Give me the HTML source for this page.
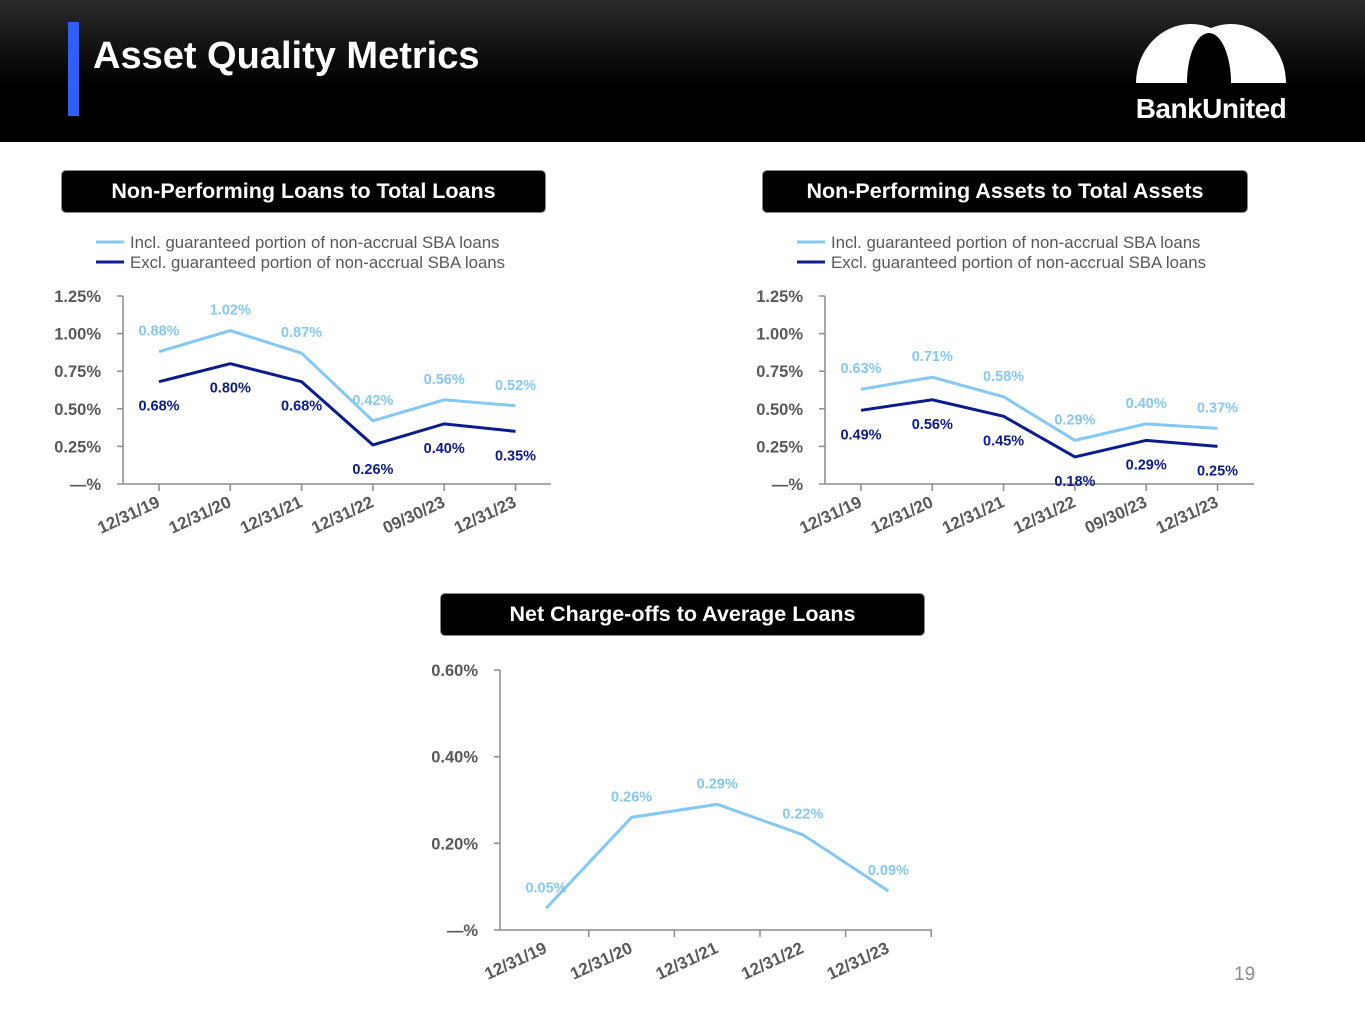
<!DOCTYPE html>
<html><head><meta charset="utf-8"><style>
body{margin:0;width:1365px;height:1024px;background:#fff;overflow:hidden;font-family:"Liberation Sans",Arial,sans-serif;position:relative}
.hdr{position:absolute;left:0;top:0;width:1365px;height:142px;background:linear-gradient(#2a2a2a,#000 60%)}
.bar{position:absolute;left:68px;top:22px;width:11px;height:94px;background:#2f5ff5}
.title{position:absolute;left:93px;top:35px;color:#fff;font-size:38px;font-weight:bold}
.box{position:absolute;height:41px;background:#000;border:1px solid #888;border-radius:5px;color:#fff;font-size:21.5px;font-weight:bold;text-align:center;line-height:41px}
.pg{position:absolute;left:1234px;top:964px;color:#8c8c8c;font-size:19px}
</style></head><body>
<div class="hdr"></div>
<div class="bar"></div>
<div class="title">Asset Quality Metrics</div>
<svg style="position:absolute;left:1120px;top:10px" width="180" height="125">
<defs><clipPath id="cl"><rect x="0" y="0" width="180" height="73"/></clipPath></defs>
<g clip-path="url(#cl)">
<ellipse cx="71" cy="73" rx="55" ry="59" fill="#fff"/>
<ellipse cx="111" cy="73" rx="55" ry="59" fill="#fff"/>
<ellipse cx="89" cy="73" rx="22" ry="50" fill="#000"/>
</g>
<text x="91" y="108" fill="#fff" font-size="28" font-weight="bold" text-anchor="middle" font-family="Liberation Sans,sans-serif" letter-spacing="-0.5">BankUnited</text>
</svg>
<div class="box" style="left:61px;top:170px;width:483px">Non-Performing Loans to Total Loans</div>
<div class="box" style="left:762px;top:170px;width:484px">Non-Performing Assets to Total Assets</div>
<div class="box" style="left:440px;top:593px;width:483px">Net Charge-offs to Average Loans</div>
<div class="pg">19</div>
<svg id="c" style="position:absolute;left:0;top:0" width="1365" height="1024"></svg>
<script>
const catsA=["12/31/19","12/31/20","12/31/21","12/31/22","09/30/23","12/31/23"];
const nplIncl=[0.88,1.02,0.87,0.42,0.56,0.52];
const nplExcl=[0.68,0.80,0.68,0.26,0.40,0.35];
const npaIncl=[0.63,0.71,0.58,0.29,0.40,0.37];
const npaExcl=[0.49,0.56,0.45,0.18,0.29,0.25];
const catsB=["12/31/19","12/31/20","12/31/21","12/31/22","12/31/23"];
const nco=[0.05,0.26,0.29,0.22,0.09];
const ticksA=[0,0.25,0.5,0.75,1.0,1.25];
const ticksAL=["—%","0.25%","0.50%","0.75%","1.00%","1.25%"];
const ticksB=[0,0.2,0.4,0.6];
const ticksBL=["—%","0.20%","0.40%","0.60%"];
const LIGHT="#85c8f5",DARK="#0b1c8c",AX="#8c8c8c",TX="#595959";
const svg=document.getElementById('c');
function el(t,a,txt){const e=document.createElementNS("http://www.w3.org/2000/svg",t);for(const k in a)e.setAttribute(k,a[k]);if(txt!=null)e.textContent=txt;svg.appendChild(e);return e;}
function chart(o){
 const y=v=>o.y0-(v/o.ymax)*(o.y0-o.y1);
 const x=i=>o.x0+o.first+i*o.step;
 let e=el('line',{x1:o.x0,y1:o.y1,x2:o.x0,y2:o.y0,stroke:AX,'stroke-width':1.5});
 
 e=el('line',{x1:o.x0,y1:o.y0,x2:o.xend,y2:o.y0,stroke:AX,'stroke-width':1.5});
 
 o.ticks.forEach((t,i)=>{
  el('line',{x1:o.x0-6,y1:y(t),x2:o.x0,y2:y(t),stroke:AX,'stroke-width':1.5});
  e=el('text',{x:o.x0-22,y:y(t)+6,'text-anchor':'end','font-size':16.5,'font-weight':'bold',fill:TX},o.tickL[i]);
  
 });
 o.cats.forEach((c,i)=>{
  const tx=o.tickBetween?x(i)+o.step/2:x(i);
  el('line',{x1:tx,y1:o.y0,x2:tx,y2:o.y0+7,stroke:AX,'stroke-width':1.5});
  const lx=x(i)+2,ly=o.y0+22;
  e=el('text',{x:lx,y:ly,'text-anchor':'end','font-size':17,'font-weight':'bold',fill:TX,transform:`rotate(-25 ${lx} ${ly})`},c);
  
 });
 o.series.forEach(s=>{
  e=el('polyline',{points:s.v.map((v,i)=>x(i)+','+y(v)).join(' '),fill:'none',stroke:s.c,'stroke-width':3});
  
  s.v.forEach((v,i)=>{
   e=el('text',{x:x(i),y:y(v)+s.off,'text-anchor':'middle','font-size':14.5,'font-weight':'bold',fill:s.c},v.toFixed(2)+'%');
   
  });
 });
 if(o.legend){[[LIGHT,"Incl. guaranteed portion of non-accrual SBA loans"],[DARK,"Excl. guaranteed portion of non-accrual SBA loans"]].forEach((l,i)=>{
  el('line',{x1:o.lx,y1:242+i*20,x2:o.lx+28,y2:242+i*20,stroke:l[0],'stroke-width':3});
  e=el('text',{x:o.lx+34,y:248+i*20,'font-size':16.8,fill:TX},l[1]);
  
 });}
}
chart({x0:123,y0:484,y1:296,ymax:1.25,xend:551,first:36,step:71.3,cats:catsA,ticks:ticksA,tickL:ticksAL,legend:true,lx:96,
 series:[{v:nplIncl,c:LIGHT,off:-16,n:'npl-incl-line'},{v:nplExcl,c:DARK,off:29,n:'npl-excl-line'}]});
chart({x0:825,y0:484,y1:296,ymax:1.25,xend:1254,first:36,step:71.3,cats:catsA,ticks:ticksA,tickL:ticksAL,legend:true,lx:797,
 series:[{v:npaIncl,c:LIGHT,off:-16,n:'npa-incl-line'},{v:npaExcl,c:DARK,off:29,n:'npa-excl-line'}]});
chart({x0:500,y0:930,y1:670,ymax:0.6,xend:932,first:46,step:85.6,cats:catsB,ticks:ticksB,tickL:ticksBL,tickBetween:true,legend:false,
 series:[{v:nco,c:LIGHT,off:-16,n:'nco-line'}]});
</script>
</body></html>
